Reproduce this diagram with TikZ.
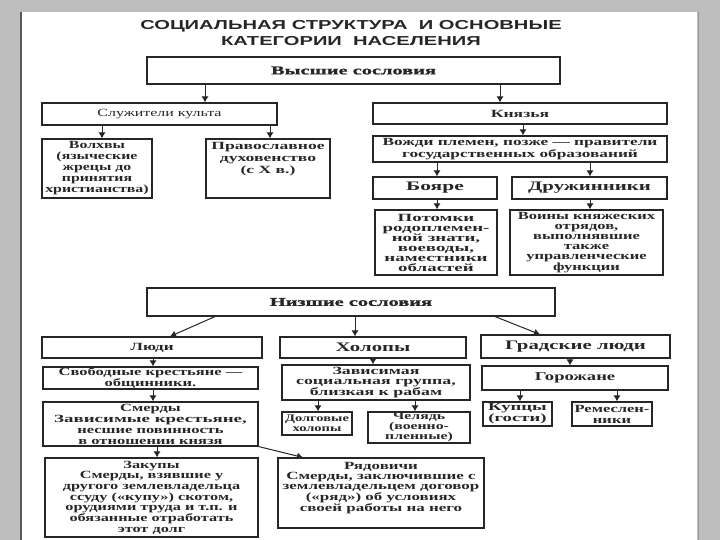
\documentclass[tikz,border=0pt]{standalone}
\usepackage{fontspec}
\usetikzlibrary{arrows.meta}
\newfontfamily\ttlbase{Liberation Sans}
\newfontfamily\serbase{Liberation Serif}
\definecolor{bggray}{HTML}{BEBEBE}
\definecolor{ink}{HTML}{262626}
% size, baselineskip, horizontal stretch
\newcommand{\fsz}[3]{\serbase\bfseries\fontsize{#1}{#2}\selectfont\addfontfeatures{FakeStretch=#3}}
\newcommand{\fszr}[3]{\serbase\fontsize{#1}{#2}\selectfont\addfontfeatures{FakeStretch=#3}}
\newcommand{\fhead}{\serbase\bfseries\fontsize{12}{12}\selectfont\addfontfeatures{FakeStretch=1.7,FakeBold=1.2}}
\newcommand{\bx}[7][]{\node[box,#1, minimum width={(#5-#3)*1pt}, minimum height={(#6-#4)*1pt}] (#2) at ({(#3+#5)/2},{(#4+#6)/2}) {#7};}
\newcommand{\av}[3]{\draw[arr] (#1.south -| #3,0) -- (#2.north -| #3,0);}
\begin{document}
\begin{tikzpicture}[x=1pt,y=-1pt,
  box/.style={draw=ink, line width=1.1pt, inner sep=0pt, align=center, text=ink,
    font={\fsz{11}{11}{1.5}}},
  arr/.style={draw=ink, line width=1pt, -{Latex[length=6pt,width=7pt]}}]
\useasboundingbox (0,0) rectangle (720,540);
\fill[bggray] (0,0) rectangle (720,540);
\fill[white] (22,12) rectangle (697,540);
\draw[gray!70!black, line width=1.5pt] (21,12) -- (21,540);
\draw[gray!80, line width=1pt] (698,12) -- (698,540);
% title
\node[font={\ttlbase\bfseries\fontsize{13}{16}\selectfont\addfontfeatures{FakeStretch=1.55}}, align=center, inner sep=0pt, text=ink] (title) at (351,33)
  {СОЦИАЛЬНАЯ СТРУКТУРА\ \ И ОСНОВНЫЕ\\КАТЕГОРИИ\ \ НАСЕЛЕНИЯ};
% upper estates
\bx[font=\fhead]{vys}{147}{57}{560}{84}{Высшие сословия}
\bx[font={\fszr{11}{11}{1.45}}]{sluzh}{42}{103}{277}{125}{Служители культа}
\bx[font={\fsz{11}{11}{1.44}}]{volh}{42}{139}{152}{198}{Волхвы\\(языческие\\жрецы до\\принятия\\христианства)}
\bx[font={\fsz{11}{12}{1.6}}]{prav}{206}{139}{330}{198}{Православное\\духовенство\\(с X в.)\\[10pt]}
\bx[font={\fsz{11}{11}{1.6}}]{knyaz}{373}{103}{667}{124}{Князья}
\bx[font={\fsz{11}{11.5}{1.57}}]{vozhd}{373}{136}{667}{162}{Вожди племен, позже — правители\\государственных образований}
\bx[font={\fsz{13}{13}{1.65}}]{boyar}{373}{177}{497}{199}{Бояре}
\bx[font={\fsz{13}{13}{1.6}}]{druzh}{512}{177}{667}{199}{Дружинники}
\bx[font={\fsz{11}{10}{1.72}}]{potom}{375}{210}{497}{275}{Потомки\\родоплемен-\\ной знати,\\воеводы,\\наместники\\областей}
\bx[font={\fsz{11}{10}{1.5}}]{voiny}{510}{210}{663}{275}{Воины княжеских\\отрядов,\\выполнявшие\\также\\управленческие\\функции}
% lower estates
\bx[font=\fhead]{nizh}{147}{288}{555}{316}{Низшие сословия}
\bx[font={\fsz{11}{11}{1.55}}]{lyudi}{42}{337}{262}{358}{Люди}
\bx[font={\fsz{13}{13}{1.6}}]{holop}{280}{337}{466}{358}{Холопы}
\bx[font={\fsz{13}{13}{1.6}}]{grad}{481}{335}{670}{358}{Градские люди}
\bx{svob}{43}{367}{258}{389}{Свободные крестьяне —\\общинники.}
\bx{smerd}{43}{402}{258}{446}{Смерды\\{\addfontfeatures{FakeStretch=1.72}Зависимые крестьяне,}\\несшие повинность\\в отношении князя}
\bx[font={\fsz{11}{10.5}{1.62}}]{zavis}{282}{365}{470}{400}{Зависимая\\социальная группа,\\близкая к рабам}
\bx[font={\fsz{12}{12}{1.55}}]{gorozh}{482}{366}{668}{390}{Горожане}
\bx[font={\fsz{10}{10.5}{1.45}}]{dolg}{282}{412}{352}{435}{Долговые\\холопы}
\bx[font={\fsz{10.5}{9.5}{1.5}}]{chel}{368}{412}{470}{443}{Челядь\\(военно-\\пленные)}
\bx[font={\fsz{11}{11}{1.7}}]{kupc}{483}{402}{552}{426}{Купцы\\(гости)}
\bx{remes}{572}{402}{652}{426}{Ремеслен-\\ники}
\bx[font={\fsz{11}{10.7}{1.48}}]{zakup}{45}{458}{258}{537}{Закупы\\Смерды, взявшие у\\другого землевладельца\\ссуду («купу») скотом,\\орудиями труда и т.п. и\\обязанные отработать\\этот долг}
\bx[font={\fsz{11}{10}{1.54}}]{ryad}{278}{458}{484}{528}{Рядовичи\\Смерды, заключившие с\\землевладельцем договор\\(«ряд») об условиях\\своей работы на него\\[2pt]}
% arrows
\av{vys}{sluzh}{205}
\av{vys}{knyaz}{500}
\av{sluzh}{volh}{102}
\av{sluzh}{prav}{270}
\av{knyaz}{vozhd}{523}
\av{vozhd}{boyar}{437}
\av{vozhd}{druzh}{590}
\av{boyar}{potom}{437}
\av{druzh}{voiny}{590}
\draw[arr] (nizh.south -| 215,0) -- (lyudi.north -| 170,0);
\av{nizh}{holop}{355}
\draw[arr] (nizh.south -| 495,0) -- (grad.north -| 540,0);
\av{lyudi}{svob}{153}
\av{holop}{zavis}{373}
\av{grad}{gorozh}{570}
\av{svob}{smerd}{153}
\av{smerd}{zakup}{157}
\draw[arr] (smerd.south east) -- (ryad.north -| 303,0);
\av{zavis}{dolg}{318}
\av{zavis}{chel}{415}
\av{gorozh}{kupc}{520}
\av{gorozh}{remes}{617}
\end{tikzpicture}
\end{document}
